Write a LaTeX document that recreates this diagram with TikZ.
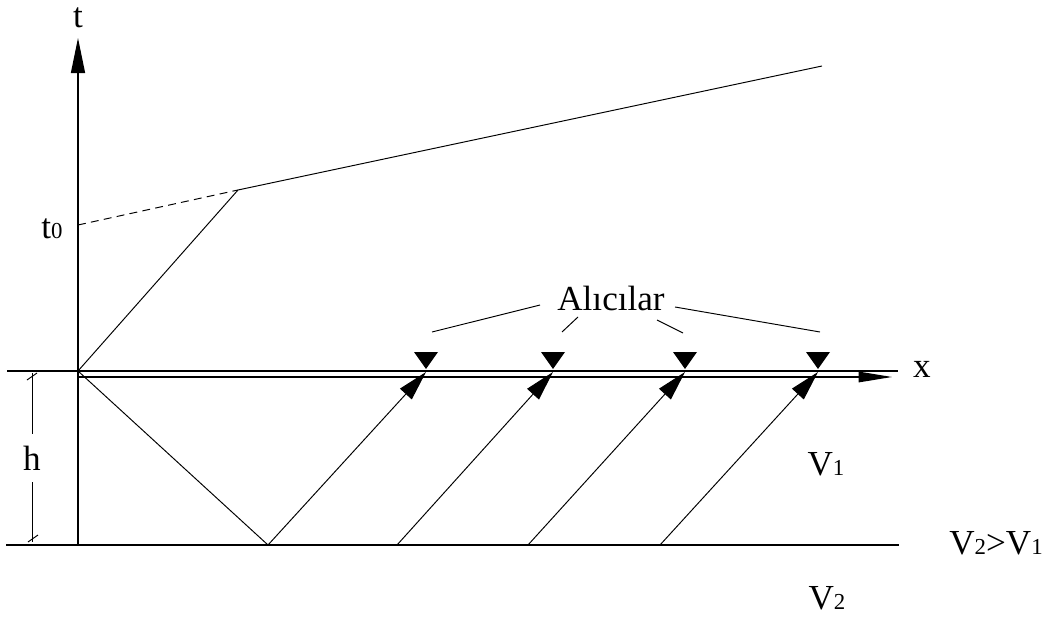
\documentclass[tikz,border=0pt]{standalone}
\usepackage{fontspec}
\setmainfont{Liberation Serif}
\usetikzlibrary{arrows.meta}
\newcommand{\lowsub}[1]{{\fontsize{13}{14}\selectfont #1}}

\begin{document}
\begin{tikzpicture}[
  x=0.02cm, y=-0.02cm,
  every node/.style={font=\fontsize{20}{24}\selectfont, inner sep=0pt},
  thinline/.style={line width=0.55pt},
  axis/.style={line width=0.75pt},
  ray/.style={line width=0.55pt, -{Triangle[length=17pt, width=9pt]}},
  rcv/.style={fill=black}
]
\useasboundingbox (0,0) rectangle (1042,625);

% eksenler ve katman sinirlari
\coordinate (o) at (78,371);
\coordinate (b) at (78,545);
\coordinate (ttop) at (78,38);
\coordinate (xend) at (892,377);
\draw[axis, -{Triangle[length=20pt, width=8pt]}] (b) -- (ttop);
\draw[axis] (7,371) -- (898,371);
\draw[axis, -{Triangle[length=19pt, width=6pt]}] (78,377) -- (xend);
\draw[axis] (6,545) -- (899,545);

\node (t) at (78,18) {t};
\node (x) at (922,369) {x};
\node (t0) at (52,229) {t\lowsub{0}};

% zaman-uzaklik egrisi
\coordinate (tt0) at (78,225);
\coordinate (k) at (238,190);
\coordinate (tend) at (822,66);
\draw[thinline, dash pattern=on 4.5pt off 3pt] (tt0) -- (k);
\draw[thinline] (o) -- (k) -- (tend);

% kalinlik h
\coordinate (htop) at (32,373);
\coordinate (hbot) at (32,542);
\node[outer sep=7pt] (h) at (32,458) {h};
\draw[thinline] (htop) -- (h) -- (hbot);
\draw[thinline] ([shift={(-5,7)}]htop) -- ([shift={(5,0)}]htop);
\draw[thinline] ([shift={(-4,0)}]hbot) -- ([shift={(6,-7)}]hbot);

% alicilar ve isin yollari
\coordinate (refl) at (268,545);
\draw[thinline] (o) -- (refl);
\foreach \i/\rx/\sx in {1/426/268, 2/553/397, 3/685/528, 4/818/660} {
  \coordinate (r\i) at (\rx,372);
  \coordinate (s\i) at (\sx,545);
  \draw[ray] (s\i) -- (r\i);
  \fill[rcv] ([shift={(-12,-20)}]r\i) -- ([shift={(12,-20)}]r\i) -- ([shift={(0,-3)}]r\i) -- cycle;
}

\node (alici) at (611,298) {Alıcılar};
\foreach \ax/\ay/\bx/\by in {540/305/432/332, 578/317/562/332, 657/320/683/333, 675/307/820/332}
  \draw[thinline] (\ax,\ay) -- (\bx,\by);

\node (v1) at (826,464) {V\lowsub{1}};
\node (vv) at (996,543) {V\lowsub{2}>V\lowsub{1}};
\node (v2) at (827,598) {V\lowsub{2}};
\end{tikzpicture}
\end{document}
